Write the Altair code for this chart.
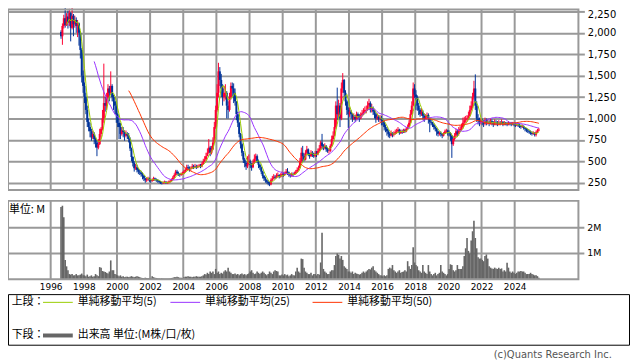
import altair as alt
import pandas as pd

# ---------------- data (monthly, Aug 1996 - Jun 2025) ----------------
FIRST_OPEN = 2010
close = [
    1960, 2080, 2170, 2090, 2190,
    2120, 2230, 2060, 2200, 2100, 2150, 2080, 2110, 2000, 1800, 1500, 1380,
    1250, 1100, 960, 900, 850, 780, 820, 760, 720, 660, 700, 820,
    880, 1000, 1180, 1150, 1250, 1350, 1300, 1380, 1250, 1200, 1150, 1050,
    950, 900, 820, 860, 840, 800, 820, 800, 760, 650, 550, 480,
    420, 430, 400, 380, 370, 350, 330, 300, 280, 290, 300, 280,
    270, 280, 300, 290, 280, 270, 260, 250, 245, 250, 260, 250,
    250, 260, 270, 290, 310, 340, 380, 360, 350, 340, 350, 360,
    380, 400, 430, 420, 410, 420, 440, 430, 440, 430, 440, 450,
    440, 470, 500, 520, 560, 600, 660, 600, 640, 720, 900, 1100,
    1300, 1550, 1450, 1350, 1250, 1300, 1300, 1150, 1100, 1250, 1380, 1350,
    1300, 1200, 1050, 950, 820, 700, 600, 520, 480, 440, 470, 500,
    460, 430, 480, 530, 560, 500, 460, 430, 380, 330, 300, 280,
    260, 240, 230, 280, 300, 320, 310, 330, 340, 320, 330, 350,
    340, 360, 380, 370, 340, 330, 350, 340, 360, 380, 400, 420,
    500, 600, 560, 520, 600, 640, 580, 560, 600, 580, 560, 590,
    580, 620, 650, 720, 680, 660, 680, 640, 620, 620, 680, 760,
    800, 900, 1150, 1050, 1150, 1000, 1350, 1450, 1300, 1200, 1100, 1050,
    1080, 1050, 1000, 1020, 990, 1050, 1030, 1000, 1040, 1060, 1080, 1100,
    1100, 1150, 1180, 1100, 1120, 1080, 1050, 1000, 1020, 990, 1000, 980,
    960, 900, 880, 850, 820, 800, 830, 810, 820, 840, 850, 870,
    830, 850, 840, 860, 850, 880, 900, 950, 1050, 1150, 1350, 1280,
    1250, 1150, 1100, 1050, 1080, 1030, 1000, 1020, 1040, 1000, 960, 950,
    930, 900, 880, 850, 820, 830, 820, 800, 820, 850, 860, 840,
    830, 800, 700, 760, 800, 850, 820, 860, 880, 900, 950, 980,
    990, 1000, 1030, 1100, 1150, 1250, 1350, 1150, 1000, 980, 950, 970,
    960, 940, 980, 950, 960, 940, 970, 950, 930, 960, 950, 940,
    950, 940, 960, 930, 950, 940, 930, 950, 940, 930, 940, 930,
    920, 930, 920, 910, 900, 910, 890, 880, 860, 850, 840, 830,
    820, 830, 810, 840, 860, 870,
]
high = [
    2030, 2110, 2210, 2290, 2230,
    2260, 2280, 2240, 2290, 2220, 2200, 2180, 2150, 2120, 2020, 1820, 1560,
    1420, 1300, 1150, 1000, 950, 880, 860, 840, 780, 750, 760, 880,
    900, 1100, 1640, 1250, 1300, 1400, 1380, 1550, 1400, 1280, 1250, 1200,
    1060, 1000, 950, 900, 900, 860, 860, 840, 830, 780, 660, 560,
    500, 470, 460, 420, 400, 390, 370, 340, 310, 310, 320, 310,
    290, 300, 320, 310, 300, 290, 280, 270, 260, 265, 275, 270,
    265, 275, 285, 300, 330, 360, 400, 400, 380, 360, 370, 380,
    400, 420, 460, 460, 440, 440, 470, 460, 470, 460, 460, 470,
    470, 490, 530, 560, 600, 650, 760, 680, 680, 780, 960, 1150,
    1400, 1650, 1600, 1520, 1400, 1380, 1400, 1320, 1200, 1300, 1420, 1420,
    1410, 1350, 1200, 1080, 960, 830, 720, 620, 540, 500, 560, 580,
    520, 480, 520, 580, 590, 580, 520, 470, 440, 390, 340, 320,
    290, 270, 260, 300, 330, 350, 340, 360, 370, 350, 360, 380,
    370, 380, 410, 420, 380, 360, 370, 370, 380, 400, 430, 450,
    540, 660, 680, 590, 630, 680, 650, 600, 630, 620, 600, 620,
    620, 650, 690, 740, 820, 700, 710, 690, 660, 650, 700, 800,
    850, 1000, 1200, 1360, 1220, 1180, 1420, 1530, 1460, 1330, 1220, 1130,
    1130, 1100, 1060, 1060, 1040, 1080, 1070, 1050, 1070, 1100, 1120, 1140,
    1150, 1200, 1230, 1200, 1170, 1140, 1100, 1070, 1060, 1040, 1040, 1030,
    1000, 980, 930, 900, 870, 840, 860, 840, 850, 870, 880, 900,
    880, 870, 870, 880, 880, 900, 930, 980, 1100, 1200, 1420, 1400,
    1330, 1270, 1180, 1120, 1120, 1100, 1060, 1050, 1070, 1060, 1010, 990,
    960, 940, 910, 890, 860, 850, 850, 830, 840, 870, 880, 870,
    860, 840, 810, 790, 830, 880, 870, 900, 920, 940, 1010, 1020,
    1030, 1040, 1080, 1150, 1200, 1300, 1440, 1515, 1200, 1050, 1010, 1000,
    1000, 980, 1010, 1000, 990, 980, 1000, 990, 970, 990, 980, 970,
    980, 970, 990, 970, 970, 960, 960, 970, 960, 960, 960, 950,
    950, 950, 950, 940, 930, 930, 920, 900, 890, 880, 870, 860,
    850, 850, 840, 860, 880, 890,
]
low = [
    1930, 1860, 2050, 2060, 2080,
    2050, 2080, 1900, 2040, 1960, 2060, 2000, 1950, 1850, 1700, 1420, 1300,
    1180, 1050, 900, 850, 780, 740, 760, 700, 660, 560, 640, 690,
    780, 860, 950, 1080, 1100, 1220, 1200, 1280, 1200, 1100, 1050, 950,
    900, 760, 760, 800, 780, 740, 780, 760, 720, 620, 500, 440,
    380, 400, 370, 350, 340, 320, 290, 270, 250, 260, 270, 260,
    250, 260, 270, 270, 260, 250, 240, 235, 230, 235, 240, 235,
    235, 240, 250, 265, 285, 305, 330, 340, 330, 320, 330, 340,
    350, 370, 390, 400, 380, 390, 410, 410, 420, 410, 420, 430,
    420, 430, 460, 490, 520, 560, 590, 560, 580, 630, 710, 880,
    1080, 1250, 1380, 1250, 1150, 1200, 1220, 1000, 1000, 1080, 1220, 1260,
    1180, 1150, 980, 900, 780, 650, 560, 480, 430, 400, 420, 460,
    420, 390, 420, 470, 500, 480, 420, 400, 350, 300, 270, 250,
    240, 220, 210, 220, 270, 290, 290, 300, 310, 300, 310, 320,
    320, 330, 350, 340, 320, 310, 320, 320, 340, 350, 370, 390,
    420, 480, 490, 500, 510, 580, 560, 530, 550, 550, 540, 550,
    550, 570, 610, 630, 640, 630, 640, 610, 600, 590, 610, 670,
    740, 790, 880, 980, 1000, 900, 980, 1300, 1250, 1150, 1040, 890,
    1020, 1000, 960, 980, 960, 990, 990, 960, 990, 1020, 1040, 1060,
    1060, 1090, 1120, 1070, 1070, 1040, 1000, 950, 980, 960, 960, 920,
    920, 860, 840, 800, 780, 770, 790, 780, 790, 810, 820, 840,
    810, 820, 820, 830, 830, 840, 870, 900, 940, 1040, 1140, 1240,
    1100, 1090, 1040, 1020, 1030, 990, 960, 990, 1000, 940, 840, 920,
    900, 870, 850, 800, 790, 800, 790, 770, 790, 820, 830, 800,
    790, 740, 540, 680, 740, 780, 790, 800, 840, 860, 880, 920,
    950, 960, 980, 1020, 1080, 1120, 1220, 1100, 960, 930, 910, 930,
    920, 900, 920, 920, 930, 910, 930, 920, 900, 920, 920, 910,
    920, 920, 930, 910, 920, 920, 910, 920, 920, 910, 920, 910,
    900, 910, 900, 890, 880, 890, 870, 850, 840, 830, 820, 810,
    800, 810, 790, 790, 830, 850,
]
volume_m = [
    2.8, 2.85, 2.4, 0.75, 0.5,
    0.35, 0.2, 0.18, 0.2, 0.15, 0.15, 0.2, 0.15, 0.15, 0.18, 0.22, 0.15,
    0.15, 0.12, 0.18, 0.1, 0.12, 0.15, 0.1, 0.12, 0.2, 0.15, 0.12, 0.47,
    0.45, 0.32, 0.3, 0.28, 0.25, 0.22, 0.3, 0.73, 0.35, 0.35, 0.2, 0.18,
    0.15, 0.12, 0.15, 0.1, 0.12, 0.08, 0.1, 0.1, 0.08, 0.1, 0.12, 0.1,
    0.08, 0.1, 0.12, 0.1, 0.08, 0.06, 0.05, 0.05, 0.06, 0.05, 0.05, 0.05,
    0.05, 0.12, 0.08, 0.06, 0.05, 0.04, 0.04, 0.03, 0.04, 0.03, 0.03, 0.03,
    0.03, 0.03, 0.04, 0.05, 0.06, 0.08, 0.08, 0.1, 0.08, 0.06, 0.06, 0.05,
    0.08, 0.1, 0.1, 0.12, 0.1, 0.1, 0.08, 0.1, 0.1, 0.12, 0.1, 0.1,
    0.1, 0.12, 0.15, 0.2, 0.18, 0.25, 0.2, 0.3, 0.25, 0.3, 0.2, 0.4,
    0.25, 0.3, 0.2, 0.25, 0.22, 0.3, 0.35, 0.3, 0.45, 0.3, 0.25, 0.2,
    0.2, 0.22, 0.18, 0.2, 0.15, 0.2, 0.22, 0.18, 0.2, 0.15, 0.2, 0.22,
    0.3, 0.35, 0.25, 0.2, 0.22, 0.3, 0.25, 0.2, 0.25, 0.3, 0.25, 0.2,
    0.15, 0.2, 0.3, 0.25, 0.2, 0.3, 0.35, 0.32, 0.3, 0.15, 0.15, 0.18,
    0.15, 0.2, 0.15, 0.18, 0.12, 0.15, 0.2, 0.15, 0.15, 0.3, 0.45, 0.3,
    0.25, 0.8, 0.78, 0.45, 0.3, 0.25, 0.2, 0.2, 0.25, 0.15, 0.2, 0.2,
    0.15, 0.2, 0.18, 0.65, 1.8, 0.4, 0.3, 0.25, 0.2, 0.2, 0.3, 0.35,
    0.35, 0.55, 0.9, 1.0, 0.95, 0.8, 0.9, 0.75, 0.5, 0.45, 0.4, 0.3,
    0.3, 0.25, 0.3, 0.2, 0.25, 0.22, 0.2, 0.18, 0.2, 0.25, 0.3, 0.25,
    0.3, 0.35, 0.4, 0.38, 0.45, 0.5, 0.35, 0.3, 0.25, 0.2, 0.15, 0.15,
    0.12, 0.15, 0.12, 0.15, 0.4, 0.45, 0.42, 0.55, 0.35, 0.3, 0.25, 0.3,
    0.35, 0.25, 0.28, 0.3, 0.35, 0.3, 0.7, 0.5, 0.4, 0.55, 1.24, 0.65,
    0.55, 0.5, 0.35, 0.3, 0.25, 0.55, 0.3, 0.25, 0.2, 0.55, 0.3, 0.2,
    0.15, 0.2, 0.25, 0.15, 0.2, 0.25, 0.55, 0.3, 0.25, 0.2, 0.15, 0.2,
    0.4, 0.58, 0.55, 0.35, 0.3, 0.35, 0.55, 0.4, 0.4, 0.4, 0.5, 0.9,
    1.2, 1.6, 1.1, 1.0, 1.5, 1.86, 2.27, 1.6, 1.2, 0.85, 0.8, 0.8,
    0.75, 0.7, 0.9, 0.96, 0.8, 0.5, 0.45, 0.42, 0.4, 0.45, 0.42, 0.4,
    0.45, 0.4, 0.42, 0.3, 0.35, 0.3, 0.64, 0.45, 0.3, 0.25, 0.3, 0.25,
    0.2, 0.25, 0.3, 0.3, 0.32, 0.3, 0.3, 0.25, 0.2, 0.2, 0.2, 0.25,
    0.2, 0.18, 0.15, 0.15, 0.12, 0.06,
]

year_ticks = list(range(1996, 2025, 2))
price_ticks = [250, 500, 750, 1000, 1250, 1500, 1750, 2000, 2250]
vol_ticks = [1, 2]
vol_tick_labels = ["1M", "2M"]
ma_labels = ["単純移動平均(5)", "単純移動平均(25)", "単純移動平均(50)"]

# ---------------- table ----------------
periods = pd.period_range("1996-08", periods=len(close), freq="M")
df = pd.DataFrame({
    "t": [p.year + (p.month - 0.5) / 12 for p in periods],
    "open": [FIRST_OPEN] + close[:-1],
    "close": close,
    "high": high,
    "low": low,
    "vol": volume_m,
})
years_df = pd.DataFrame({"year": year_ticks})
vt_df = pd.DataFrame({"v": vol_ticks, "label": vol_tick_labels})
one = pd.DataFrame({"k": [0]})

# ---------------- styling ----------------
W, H = 575, 272
GRID = "#999999"
UP, DOWN = "#ff0033", "#003399"
C5, C25, C50 = "#99cc00", "#9933ff", "#ff3300"
VOLC = "#666666"
NUM_FONT = "DejaVu Sans"
JP_FONT = "Noto Sans CJK JP"

x_scale = alt.Scale(domain=[1993.724, 2027.547], nice=False, zero=False)
x_axis = alt.Axis(values=year_ticks, format="d", grid=False, ticks=False, domain=False,
                  labelFont=NUM_FONT, labelFontSize=9, labelColor="#000000",
                  labelPadding=3, title=None)


def X(field):
    return alt.X(field, type="quantitative", scale=x_scale, axis=x_axis)


p_scale = alt.Scale(domain=[-876.6, 2273.2], nice=False, zero=False)
p_axis = alt.Axis(orient="right", values=price_ticks, format=",.0f", grid=True,
                  gridColor=GRID, gridWidth=2, gridOpacity=1, ticks=True,
                  tickColor=GRID, tickWidth=2, tickSize=6, domain=False,
                  labelFont=NUM_FONT, labelFontSize=10, labelColor="#000000",
                  labelPadding=3, title=None,
                  labelOffset={"condition": {"test": "datum.value >= 2250", "value": 3},
                               "value": 0})


def PY(field):
    return alt.Y(field, type="quantitative", scale=p_scale, axis=p_axis)


v_scale = alt.Scale(domain=[0, H / 26.0], nice=False, zero=False)


def VY(field):
    return alt.Y(field, type="quantitative", scale=v_scale, axis=None)


updown = alt.when(alt.datum.close >= alt.datum.open).then(alt.value(UP)).otherwise(alt.value(DOWN))
base = alt.Chart(df)

# ---------------- price panel ----------------
wick = base.mark_rule(strokeWidth=1).encode(x=X("t"), y=PY("low"), y2="high:Q", color=updown)
body = base.mark_bar(size=2).encode(x=X("t"), y=PY("open"), y2="close:Q", color=updown)


def ma_line(n, color):
    return (
        base.transform_window(ma="mean(close)", rn="row_number()", frame=[-(n - 1), 0],
                              sort=[alt.SortField("t")])
        .transform_filter(alt.datum.rn >= n)
        .mark_line(color=color, strokeWidth=1)
        .encode(x=X("t"), y=PY("ma"))
    )


price = alt.layer(wick, body, ma_line(5, C5), ma_line(25, C25), ma_line(50, C50))

# ---------------- volume panel ----------------
vol_grid = alt.Chart(vt_df).mark_rule(color=GRID, strokeWidth=2).encode(
    y=VY("v"), x=alt.value(0), x2=alt.value(W + 6))
vol_bars = base.mark_bar(size=1.6, color=VOLC).encode(x=X("t"), y=VY("vol"))
vol_labels = alt.Chart(vt_df).mark_text(align="left", baseline="middle", font=NUM_FONT,
                                        fontSize=9.5, color="#000000").encode(
    y=VY("v"), x=alt.value(W + 9), text="label:N")
volume = alt.layer(vol_grid, vol_bars, vol_labels)

# ---------------- grid / frames ----------------
vgrid_p = alt.Chart(years_df).mark_rule(color=GRID, strokeWidth=2).encode(
    x=X("year"), y=alt.value(0), y2=alt.value(182))
vgrid_v = alt.Chart(years_df).mark_rule(color=GRID, strokeWidth=2).encode(
    x=X("year"), y=alt.value(193), y2=alt.value(272))
frame_p = alt.Chart(one).mark_rect(filled=False, stroke=GRID, strokeWidth=2).encode(
    x=alt.value(0), x2=alt.value(W), y=alt.value(0), y2=alt.value(182))
frame_v = alt.Chart(one).mark_rect(filled=False, stroke=GRID, strokeWidth=2).encode(
    x=alt.value(0), x2=alt.value(W), y=alt.value(193), y2=alt.value(272))
unit_txt = alt.Chart(one).mark_text(text="単位: M", align="left", baseline="middle",
                                    font=JP_FONT, fontSize=11, color="#000000").encode(
    x=alt.value(1), y=alt.value(202))

# ---------------- legend box ----------------
box = alt.Chart(one).mark_rect(filled=False, stroke="#000000", strokeWidth=1).encode(
    x=alt.value(0.5), x2=alt.value(626.5), y=alt.value(287.5), y2=alt.value(338.5))


def ltext(txt, x, y):
    return alt.Chart(one).mark_text(text=txt, align="left", baseline="middle", font=JP_FONT,
                                    fontSize=11, color="#000000").encode(
        x=alt.value(x), y=alt.value(y))


def lline(x1, x2, y, color, w):
    return alt.Chart(one).mark_rule(color=color, strokeWidth=w).encode(
        x=alt.value(x1), x2=alt.value(x2), y=alt.value(y))


R1, R2 = 295.3, 328.7
legend = [
    box,
    ltext("上段：", 3.7, R1),
    lline(35.3, 65.3, R1, C5, 1), ltext(ma_labels[0], 70.3, R1),
    lline(163.7, 193.7, R1, C25, 1), ltext(ma_labels[1], 198.7, R1),
    lline(307, 337, R1, C50, 1), ltext(ma_labels[2], 342, R1),
    ltext("下段：", 3.7, R2),
    lline(35.3, 65.3, R2, VOLC, 4), ltext("出来高 単位:(M株/口/枚)", 70.3, R2),
]
copyright_txt = alt.Chart(one).mark_text(text="(c)Quants Research Inc.", align="right",
                                         baseline="middle", font=NUM_FONT, fontSize=10,
                                         color="#555555").encode(
    x=alt.value(608.7), y=alt.value(348.5))

chart = (
    alt.layer(vgrid_p, vgrid_v, price, volume, frame_p, frame_v, unit_txt, *legend, copyright_txt)
    .resolve_scale(y="independent")
    .properties(width=W, height=H,
                autosize=alt.AutoSizeParams(type="none"),
                padding={"left": 0, "top": 0, "right": 52, "bottom": 82})
    .configure_view(stroke=None)
)

chart.save("out.html", embed_options={"renderer": "svg", "actions": False})
